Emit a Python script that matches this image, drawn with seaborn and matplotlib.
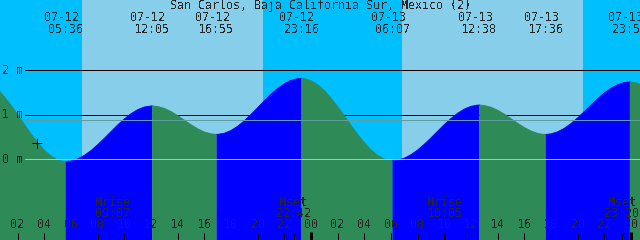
import pandas as pd
import matplotlib
matplotlib.use('Agg')
import matplotlib.pyplot as plt
import matplotlib.transforms as mtransforms
import seaborn as sns

# Tide level (m), hours after 07-12 00:00
hours = [0, 0.5, 1, 1.5, 2, 2.5, 3, 3.5, 4, 4.5, 5, 5.25, 5.6,
         6, 6.5, 7, 7.5, 8, 8.5, 9, 9.5, 10, 10.5, 11, 11.5, 12, 12.083,
         12.5, 13, 13.5, 14, 14.5, 15, 15.5, 16, 16.5, 16.917,
         17, 17.5, 18, 18.5, 19, 19.5, 20, 20.5, 21, 21.5, 22, 22.5, 23, 23.267,
         23.5, 24, 24.5, 25, 25.5, 26, 26.5, 27, 27.5, 28, 28.5, 29, 29.5, 30, 30.117,
         30.5, 31, 31.5, 32, 32.5, 33, 33.5, 34, 34.5, 35, 35.5, 36, 36.5, 36.633,
         37, 37.5, 38, 38.5, 39, 39.5, 40, 40.5, 41, 41.25, 41.6,
         42, 42.5, 43, 43.5, 44, 44.5, 45, 45.5, 46, 46.5, 47, 47.5, 47.917,
         48, 48.5, 49]
levels = [1.695, 1.572, 1.41, 1.216, 1.005, 0.785, 0.571, 0.375, 0.204, 0.074, -0.014, -0.037, -0.05,
          -0.038, 0.009, 0.089, 0.196, 0.328, 0.472, 0.623, 0.771, 0.908, 1.025, 1.116, 1.176, 1.199, 1.20,
          1.188, 1.145, 1.074, 0.982, 0.88, 0.778, 0.686, 0.615, 0.572, 0.56,
          0.561, 0.586, 0.648, 0.743, 0.865, 1.009, 1.160, 1.317, 1.463, 1.595, 1.700, 1.775, 1.814, 1.82,
          1.814, 1.768, 1.676, 1.544, 1.376, 1.185, 0.976, 0.766, 0.560, 0.374, 0.213, 0.089, 0.006, -0.029, -0.03,
          -0.019, 0.026, 0.104, 0.210, 0.339, 0.482, 0.633, 0.781, 0.918, 1.036, 1.129, 1.191, 1.219, 1.22,
          1.211, 1.171, 1.104, 1.016, 0.914, 0.811, 0.715, 0.637, 0.583, 0.568, 0.56,
          0.572, 0.618, 0.697, 0.804, 0.932, 1.074, 1.220, 1.363, 1.491, 1.599, 1.679, 1.728, 1.74,
          1.739, 1.709, 1.634]

# high / low tide events
event_hours = [5.6, 12.083, 16.917, 23.267, 30.117, 36.633, 41.6, 47.917]
event_dates = ["07-12", "07-12", "07-12", "07-12", "07-13", "07-13", "07-13", "07-13"]
event_times = ["05:36", "12:05", "16:55", "23:16", "06:07", "12:38", "17:36", "23:55"]

# moon events
moon_hours = [9.117, 22.7, 34.083, 47.333]
moon_names = ["Mrise", "Mset", "Mrise", "Mset"]
moon_times = ["09:07", "22:42", "10:05", "23:20"]

# daylight
sunrise = [6.82, 30.82]
sunset = [20.42, 44.42]

hour_ticks = list(range(2, 49, 2))
level_ticks = [2, 1, 0]
msl = 0.89
now_hour, now_level = 3.47, 0.36

title = "San Carlos, Baja California Sur, Mexico (2)"

NIGHT = "#00BFFF"
DAY = "#87CEEB"
FLOOD = "#0000FF"
EBB = "#2E8B57"

sns.set_style("white")
plt.rcParams['font.family'] = ['DejaVu Sans Mono']
plt.rcParams['text.antialiased'] = False
FS = 8.4

df = pd.DataFrame({'hour': hours, 'level': levels})

fig = plt.figure(figsize=(6.4, 2.4), dpi=100)
ax = fig.add_axes([0, 0, 1, 1])

PX = 0.72  # one pixel in points
ypix = mtransforms.blended_transform_factory(ax.transData, ax.transAxes)
ylev = mtransforms.blended_transform_factory(ax.transAxes, ax.transData)


def yfrac(py):
    return 1 - py / 240.0


def xfrac(px):
    return px / 640.0


# sky
ax.axvspan(-5, 55, color=NIGHT, zorder=0, lw=0)
for r, s in zip(sunrise, sunset):
    ax.axvspan(r, s, color=DAY, zorder=0.5, lw=0)

# reference lines behind the water
for lv in [2, 1]:
    ax.axhline(lv, xmin=xfrac(25), color='black', lw=PX, zorder=1)

# water, coloured by flood / ebb
bounds = [df['hour'].min()] + event_hours + [df['hour'].max()]
seg_rows = []
for i in range(len(bounds) - 1):
    part = df[(df['hour'] >= bounds[i]) & (df['hour'] <= bounds[i + 1])].copy()
    rising = part['level'].iloc[-1] > part['level'].iloc[0]
    part['phase'] = 'flood' if rising else 'ebb'
    part['seg'] = i
    seg_rows.append(part)
    ax.fill_between(part['hour'], -5, part['level'],
                    color=FLOOD if rising else EBB, lw=0, zorder=2)
segs = pd.concat(seg_rows)
sns.lineplot(data=segs, x='hour', y='level', hue='phase', units='seg',
             estimator=None, palette={'flood': FLOOD, 'ebb': EBB},
             lw=0.6, legend=False, ax=ax, zorder=2.5)
ax.set_xlim(0.675, 48.675)
ax.set_ylim(-1.813, 3.58)
ax.axis('off')

# datum and mean sea level lines over the water
ax.axhline(0, xmin=xfrac(25), color="#87CEEB", lw=PX, zorder=3)
ax.axhline(msl, xmin=xfrac(25), color="#5F9EA0", lw=PX, zorder=3)

# level labels
for lv in level_ticks:
    ax.text(xfrac(2), lv, f"{lv} m", transform=ylev,
            ha='left', va='center', fontsize=FS, zorder=4)

# now marker
ax.plot([now_hour], [now_level], marker='+', color='black', ms=7, mew=PX, zorder=4)

# title and tide events
ax.text(0.5, yfrac(6), title, transform=ax.transAxes, ha='center', va='center', fontsize=FS, zorder=5)
for h, d, t in zip(event_hours, event_dates, event_times):
    ax.text(h - 0.3, yfrac(17.5), d, transform=ypix, ha='center', va='center', fontsize=FS, zorder=5)
    ax.text(h, yfrac(29.5), t, transform=ypix, ha='center', va='center', fontsize=FS, zorder=5)

# moon events
for h, n, t in zip(moon_hours, moon_names, moon_times):
    ax.text(h, yfrac(202), n, transform=ypix, ha='center', va='center', fontsize=FS, zorder=5)
    ax.text(h, yfrac(213.5), t, transform=ypix, ha='center', va='center', fontsize=FS, zorder=5)
    ax.vlines(h, 0, yfrac(233), transform=ypix, color='black', lw=PX, zorder=5)

# hour axis
for h in hour_ticks:
    ax.text(h, yfrac(225), f"{h % 24:02d}", transform=ypix, ha='center', va='center', fontsize=FS, zorder=5)
    if h % 24 == 0:
        ax.vlines(h, 0, yfrac(232), transform=ypix, color='black', lw=3 * PX, zorder=5)
    else:
        ax.vlines(h, 0, yfrac(233), transform=ypix, color='black', lw=PX, zorder=5)

fig.savefig('out.png', dpi=100)
